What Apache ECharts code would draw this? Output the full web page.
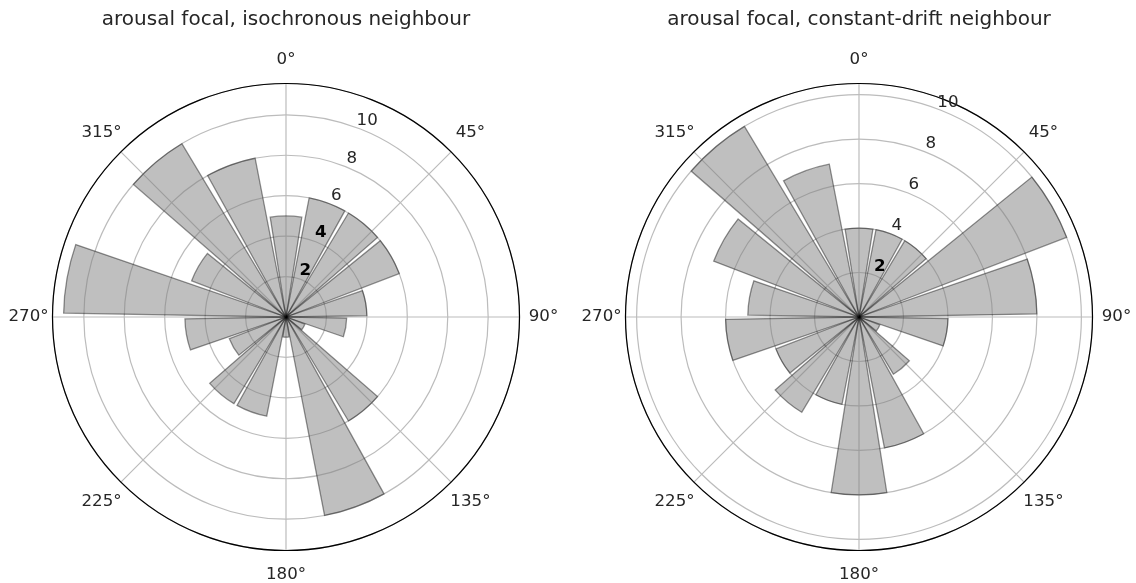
<!DOCTYPE html>
<html>
<head>
<meta charset="utf-8">
<script src="https://cdn.jsdelivr.net/npm/echarts@6/dist/echarts.min.js"></script>
<style>
html, body { margin: 0; padding: 0; background: #ffffff; }
#chart { width: 1136px; height: 583px; }
</style>
</head>
<body>
<div id="chart"></div>
<script>
// ---- data ----
const binCentres = ['0', '20', '40', '60', '80', '100', '120', '140', '160',
                    '180', '200', '220', '240', '260', '280', '300', '320', '340'];
const isochronousCounts   = [5, 6, 6, 6, 4, 3, 1, 6, 10, 1, 5, 5, 3, 5, 11, 5, 10, 8];
const constantDriftCounts = [4, 4, 4, 10, 8, 4, 1, 3, 6, 8, 4, 5, 4, 6, 5, 7, 10, 7];
const panelTitles = ['arousal focal, isochronous neighbour',
                     'arousal focal, constant-drift neighbour'];
const angleTickStep = 45;            // 0°, 45°, ... 315°
const radiusTickStep = 2;            // 2, 4, 6, 8, 10
const radiusMaxima = [11.55, 10.5];  // axis upper limits
const boldRadiusLabels = [[2, 4], [2]];

// ---- layout / style ----
const FONT = 'DejaVu Sans';
const TXT = '#262626';
const centres = [[286, 317], [859, 317]];
const R = 233.5;
const GRID = '#bcbcbc';

const panels = [
  { counts: isochronousCounts },
  { counts: constantDriftCounts }
];

const option = {
  animation: false,
  backgroundColor: '#ffffff',
  title: [],
  polar: [],
  angleAxis: [],
  radiusAxis: [],
  series: []
};

panels.forEach((p, i) => {
  const c = centres[i];
  const rmax = radiusMaxima[i];
  const gi = 3 * i, bi = 3 * i + 1, li = 3 * i + 2;

  option.title.push({
    text: panelTitles[i],
    left: c[0],
    top: 10,
    textAlign: 'center',
    padding: 0,
    textStyle: { fontSize: 20, fontWeight: 'normal', fontFamily: FONT, color: TXT }
  });

  // grid polar
  option.polar.push({ center: c, radius: R });
  // bar polar
  option.polar.push({ center: c, radius: R });
  // radius-label polar (labels sit 10px outside their rings, along 22.5°)
  option.polar.push({ center: c, radius: [10, R + 10] });

  option.angleAxis.push({
    polarIndex: gi, type: 'value', min: 0, max: 360, interval: angleTickStep,
    startAngle: 90, clockwise: true, z: 1,
    axisLine: { show: true, lineStyle: { color: '#000000', width: 1.2 } },
    axisTick: { show: false },
    axisLabel: {
      show: true, margin: 16,
      formatter: function (v) { return v === 360 ? '' : '{c|' + v + '°}'; },
      rich: { c: { width: 16, height: 16, align: 'center', verticalAlign: 'middle',
                   fontSize: 16.67, fontFamily: FONT, color: TXT } }
    },
    splitLine: { show: true, lineStyle: { color: GRID, width: 1.2 } }
  });
  option.radiusAxis.push({
    polarIndex: gi, type: 'value', min: 0, max: rmax, interval: radiusTickStep, z: 0,
    axisLine: { show: false }, axisTick: { show: false }, axisLabel: { show: false },
    splitLine: { show: true, lineStyle: { color: GRID, width: 1.2 } }
  });

  option.angleAxis.push({
    polarIndex: bi, type: 'category', data: binCentres,
    startAngle: 100, clockwise: true, show: false
  });
  option.radiusAxis.push({
    polarIndex: bi, type: 'value', min: 0, max: rmax, show: false
  });

  const bold = boldRadiusLabels[i];
  option.angleAxis.push({
    polarIndex: li, type: 'value', min: 0, max: 360, startAngle: 67.5, show: false
  });
  option.radiusAxis.push({
    polarIndex: li, type: 'value', min: 0, max: rmax, interval: radiusTickStep, z: 10,
    axisLine: { show: false }, axisTick: { show: false }, splitLine: { show: false },
    axisLabel: {
      show: true, margin: 0, align: 'center', verticalAlign: 'middle',
      showMinLabel: false, showMaxLabel: false,
      fontSize: 16.67, fontFamily: FONT, color: TXT,
      formatter: function (v) {
        return bold.indexOf(v) >= 0 ? '{b|' + v + '}' : '{n|' + v + '}';
      },
      rich: {
        b: { fontSize: 16.67, fontFamily: FONT, color: '#000000', fontWeight: 'bold' },
        n: { fontSize: 16.67, fontFamily: FONT, color: TXT }
      }
    }
  });

  option.series.push({
    type: 'bar',
    coordinateSystem: 'polar',
    polarIndex: bi,
    data: p.counts,
    barWidth: '90%',
    z: 2,
    silent: true,
    itemStyle: {
      color: 'rgba(128,128,128,0.5)',
      borderColor: 'rgba(0,0,0,0.42)',
      borderWidth: 1.3
    }
  });
});

const chart = echarts.init(document.getElementById('chart'), null, { renderer: 'canvas' });
chart.setOption(option);
</script>
</body>
</html>
